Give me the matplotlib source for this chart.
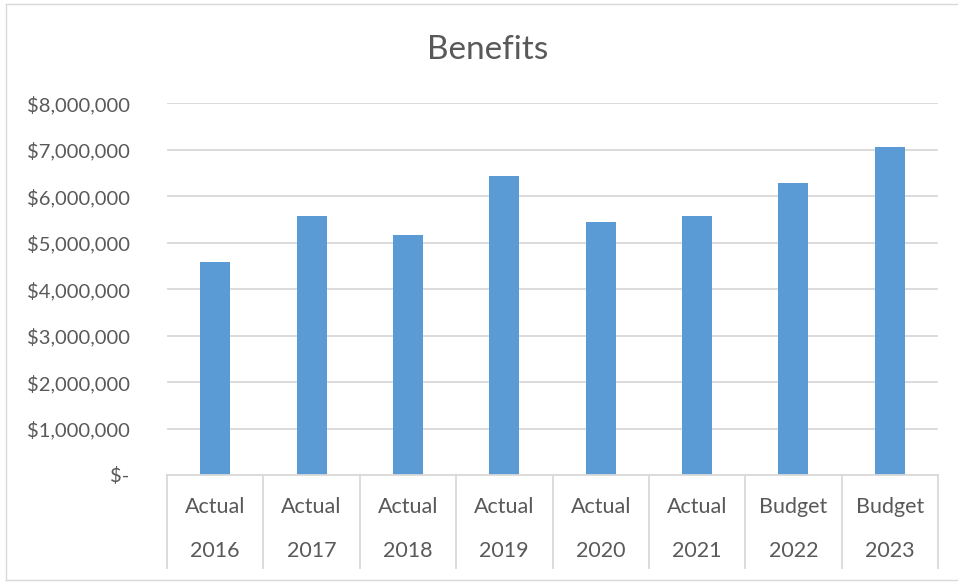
import matplotlib
matplotlib.use("Agg")
import matplotlib.pyplot as plt
from matplotlib.lines import Line2D
from matplotlib.ticker import FuncFormatter
import matplotlib.transforms as mtransforms

# Data
kinds = ["Actual", "Actual", "Actual", "Actual", "Actual", "Actual", "Budget", "Budget"]
years = ["2016", "2017", "2018", "2019", "2020", "2021", "2022", "2023"]
benefits = [4580000, 5580000, 5160000, 6440000, 5440000, 5580000, 6290000, 7060000]
y_ticks = [0, 1000000, 2000000, 3000000, 4000000, 5000000, 6000000, 7000000, 8000000]

BAR_COLOR = "#5B9BD5"
GRID_COLOR = "#D9D9D9"
TEXT_COLOR = "#595959"
FONT = ["Lato", "DejaVu Sans"]

plt.rcParams["font.family"] = FONT

W, H = 958, 582
fig = plt.figure(figsize=(W / 100, H / 100), dpi=100)

# outer chart border (left, top, bottom)
fig.add_artist(Line2D([5.5 / W, 5.5 / W], [1 - 4 / H, 1 - 580 / H], color=GRID_COLOR, lw=1.0))
fig.add_artist(Line2D([5.5 / W, 1.0], [1 - 4 / H, 1 - 4 / H], color=GRID_COLOR, lw=1.0))
fig.add_artist(Line2D([5.5 / W, 1.0], [1 - 580 / H, 1 - 580 / H], color=GRID_COLOR, lw=1.0))

left, right = 167 / W, 938 / W
bottom, top = 1 - 475 / H, 1 - 103.3 / H
ax = fig.add_axes([left, bottom, right - left, top - bottom])

x = list(range(len(years)))
ax.bar(x, benefits, width=0.31, color=BAR_COLOR, zorder=3)

ax.set_xlim(-0.5, len(years) - 0.5)
ax.set_ylim(0, 8000000)
ax.set_yticks(y_ticks)


def money(v, pos):
    if v == 0:
        return "$-"
    return "${:,.0f}".format(v)


ax.yaxis.set_major_formatter(FuncFormatter(money))
ax.tick_params(axis="y", length=0, pad=27, labelsize=14.5, labelcolor=TEXT_COLOR)
ax.tick_params(axis="x", length=0, labelbottom=False)
ax.grid(axis="y", color=GRID_COLOR, lw=1.3, zorder=0)
for s in ["top", "right", "left"]:
    ax.spines[s].set_visible(False)
ax.spines["bottom"].set_color(GRID_COLOR)
ax.spines["bottom"].set_linewidth(1.3)
ax.spines["bottom"].set_zorder(4)

# category separators and two-row labels below the axis
trans = mtransforms.blended_transform_factory(ax.transData, ax.transAxes)
axes_h = 475 - 103.3
sep_bottom = -(568 - 475) / axes_h
for i in range(len(years) + 1):
    ax.add_line(Line2D([i - 0.5, i - 0.5], [0, sep_bottom], transform=trans,
                       color=GRID_COLOR, lw=1.3, clip_on=False))
for i, (k, yr) in enumerate(zip(kinds, years)):
    ax.text(i, -(507 - 475) / axes_h, k, transform=trans, ha="center", va="center",
            fontsize=15.5, color=TEXT_COLOR)
    ax.text(i, -(551 - 475) / axes_h, yr, transform=trans, ha="center", va="center",
            fontsize=15.5, color=TEXT_COLOR)

fig.text(488 / W, 1 - 50 / H, "Benefits", ha="center", va="center",
         fontsize=24, color=TEXT_COLOR)

fig.savefig("out.png", dpi=100)
